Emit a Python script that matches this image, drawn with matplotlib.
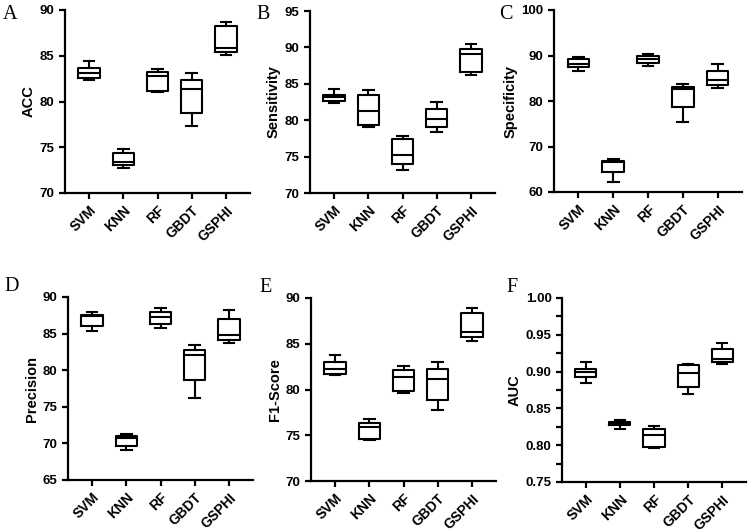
import matplotlib
matplotlib.use("Agg")
import matplotlib.pyplot as plt
from matplotlib.ticker import MultipleLocator

plt.rcParams['font.family'] = ['Liberation Sans', 'DejaVu Sans']

models = ["SVM", "KNN", "RF", "GBDT", "GSPHI"]

# box stats per model: min, q1, median, q3, max (whiskers = min/max)
acc_min = [82.4, 72.7, 81.05, 77.3, 85.1]
acc_q1 = [82.6, 73.1, 81.2, 78.7, 85.4]
acc_med = [83.1, 73.4, 82.8, 81.35, 85.8]
acc_q3 = [83.7, 74.4, 83.2, 82.4, 88.2]
acc_max = [84.4, 74.8, 83.6, 83.1, 88.7]

sen_min = [82.3, 79.1, 73.1, 78.4, 86.2]
sen_q1 = [82.7, 79.4, 74.0, 79.0, 86.6]
sen_med = [83.2, 81.2, 75.2, 80.2, 89.1]
sen_q3 = [83.5, 83.5, 77.4, 81.6, 89.8]
sen_max = [84.3, 84.2, 77.8, 82.5, 90.4]

spe_min = [86.7, 62.3, 87.7, 75.3, 82.8]
spe_q1 = [87.4, 64.4, 88.3, 78.6, 83.5]
spe_med = [88.2, 66.6, 89.2, 82.7, 84.6]
spe_q3 = [89.2, 66.9, 89.8, 83.0, 86.5]
spe_max = [89.6, 67.3, 90.4, 83.8, 88.1]

pre_min = [85.3, 69.1, 85.7, 76.2, 83.7]
pre_q1 = [86.1, 69.6, 86.35, 78.6, 84.15]
pre_med = [87.35, 70.7, 87.2, 82.1, 84.75]
pre_q3 = [87.6, 71.0, 88.0, 82.8, 87.0]
pre_max = [87.9, 71.25, 88.5, 83.5, 88.2]

f1_min = [81.6, 74.45, 79.6, 77.75, 85.25]
f1_q1 = [81.7, 74.6, 79.8, 78.8, 85.7]
f1_med = [82.25, 75.9, 81.4, 81.1, 86.3]
f1_q3 = [83.0, 76.3, 82.1, 82.25, 88.4]
f1_max = [83.8, 76.8, 82.6, 83.05, 88.9]

auc_min = [0.885, 0.822, 0.796, 0.869, 0.910]
auc_q1 = [0.892, 0.827, 0.797, 0.879, 0.913]
auc_med = [0.900, 0.8295, 0.8135, 0.898, 0.917]
auc_q3 = [0.904, 0.832, 0.822, 0.909, 0.931]
auc_max = [0.913, 0.834, 0.826, 0.910, 0.939]

W, H = 748, 532
fig = plt.figure(figsize=(W / 100, H / 100), dpi=100)


def px_axes(left, top, right, bottom):
    return fig.add_axes([left / W, 1 - bottom / H, (right - left) / W, (bottom - top) / H])


panels = [
    # letter, label, stats, ylim, step, axes box (px), letter pos (px)
    ("A", "ACC", (acc_min, acc_q1, acc_med, acc_q3, acc_max), (70, 90), 5, (65, 10, 250, 193), (3, 19)),
    ("B", "Sensitivity", (sen_min, sen_q1, sen_med, sen_q3, sen_max), (70, 95), 5, (310, 11, 495, 193), (256, 19)),
    ("C", "Specificity", (spe_min, spe_q1, spe_med, spe_q3, spe_max), (60, 100), 10, (554, 10, 742, 192), (499, 19)),
    ("D", "Precision", (pre_min, pre_q1, pre_med, pre_q3, pre_max), (65, 90), 5, (68, 297, 253, 480), (4, 291)),
    ("E", "F1-Score", (f1_min, f1_q1, f1_med, f1_q3, f1_max), (70, 90), 5, (311, 298, 496, 481), (259, 292)),
    ("F", "AUC", (auc_min, auc_q1, auc_med, auc_q3, auc_max), (0.75, 1.00), 0.05, (562, 298, 746, 482), (506, 292)),
]

lw = 1.5
for letter, label, st, ylim, step, box, lpos in panels:
    ax = px_axes(*box)
    lo, q1, med, q3, hi = st
    stats = []
    for i in range(len(models)):
        stats.append({"whislo": lo[i], "q1": q1[i], "med": med[i], "q3": q3[i], "whishi": hi[i]})
    ax.bxp(stats, positions=range(1, 6), widths=0.62, showfliers=False, patch_artist=False,
           boxprops=dict(color="black", linewidth=lw),
           medianprops=dict(color="black", linewidth=lw),
           whiskerprops=dict(color="black", linewidth=lw),
           capprops=dict(color="black", linewidth=lw))
    ax.set_xlim(0.3, 5.7)
    ax.set_ylim(*ylim)
    ax.yaxis.set_major_locator(MultipleLocator(step))
    if letter == "F":
        ax.yaxis.set_minor_locator(MultipleLocator(step / 2))
        ax.set_yticklabels([f"{v:.2f}" for v in ax.get_yticks()])
    ax.set_xticks(range(1, 6))
    ax.set_xticklabels(models, rotation=45, ha="right", rotation_mode="anchor")
    for s in ["top", "right"]:
        ax.spines[s].set_visible(False)
    for s in ["left", "bottom"]:
        ax.spines[s].set_linewidth(1.6)
    ax.tick_params(axis="both", which="both", direction="out", length=4, width=1.6, labelsize=9.5)
    ax.tick_params(axis="x", labelsize=10)
    for t in ax.get_xticklabels() + ax.get_yticklabels():
        t.set_fontweight("bold")
    ax.set_ylabel(label, fontsize=10.5, fontweight="bold", labelpad=3)
    fig.text(lpos[0] / W, 1 - lpos[1] / H, letter, fontsize=14.5,
             family=["Liberation Serif", "DejaVu Serif"], ha="left", va="baseline")

fig.savefig("out.png", dpi=100)
